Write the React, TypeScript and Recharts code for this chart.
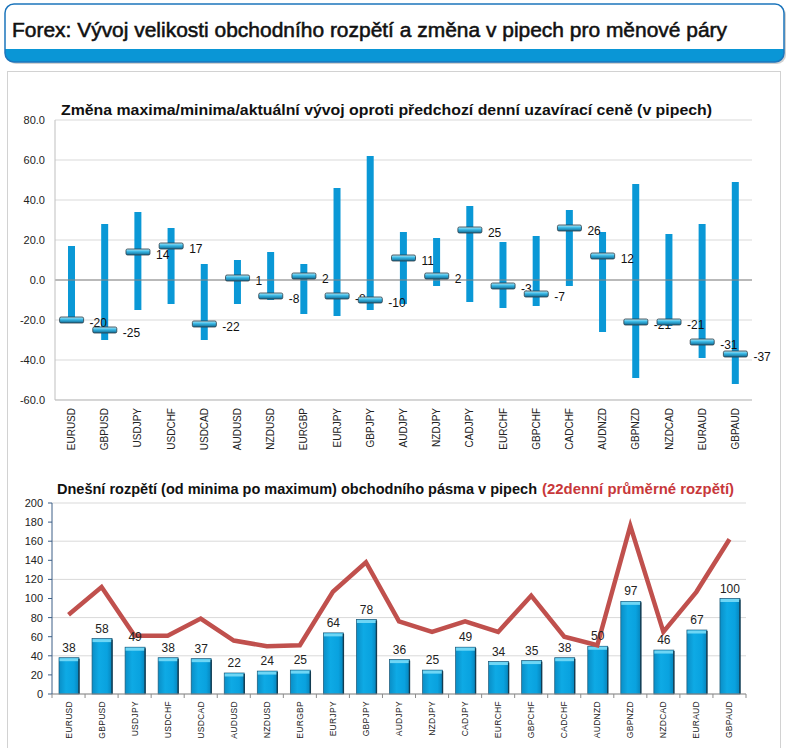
import React from 'react';
import { ComposedChart, Bar, Line, XAxis, YAxis, CartesianGrid, ReferenceLine, LabelList } from 'recharts';

const pairs = ['EURUSD', 'GBPUSD', 'USDJPY', 'USDCHF', 'USDCAD', 'AUDUSD', 'NZDUSD', 'EURGBP', 'EURJPY', 'GBPJPY', 'AUDJPY', 'NZDJPY', 'CADJPY', 'EURCHF', 'GBPCHF', 'CADCHF', 'AUDNZD', 'GBPNZD', 'NZDCAD', 'EURAUD', 'GBPAUD'];
const highs = [17, 28, 34, 26, 8, 10, 14, 8, 46, 62, 24, 21, 37, 19, 22, 35, 24, 48, 23, 28, 49];
const lows = [-20, -30, -15, -12, -30, -12, -10, -17, -18, -15, -12, -3, -11, -14, -13, -3, -26, -49, -23, -39, -52];
const current = [-20, -25, 14, 17, -22, 1, -8, 2, -8, -10, 11, 2, 25, -3, -7, 26, 12, -21, -21, -31, -37];
const todayRange = [38, 58, 49, 38, 37, 22, 24, 25, 64, 78, 36, 25, 49, 34, 35, 38, 50, 97, 46, 67, 100];
const avgRange = [83, 112, 61, 61, 79, 56, 50, 51, 107, 138, 76, 65, 76, 65, 103, 60, 51, 176, 65, 107, 162];
const topTicks = [-60, -40, -20, 0, 20, 40, 60, 80];
const botTicks = [0, 20, 40, 60, 80, 100, 120, 140, 160, 180, 200];

const topData = pairs.map((p, i) => ({ pair: p, range: [lows[i], highs[i]], current: current[i] }));
const botData = pairs.map((p, i) => ({ pair: p, today: todayRange[i], avg: avgRange[i] }));

const FONT = '"Liberation Sans", Arial, sans-serif';
const BOT_BAND = 694 / pairs.length;

const TopTick = (props: any) => {
  const { x, y, payload } = props;
  return (
    <text x={x} y={y} transform={`rotate(-90 ${x} ${y})`} textAnchor="end" dominantBaseline="central" fontSize={10} fill="#222" fontFamily={FONT}>
      {payload.value}
    </text>
  );
};

const BotTick = (props: any) => {
  const { x, y, payload, index } = props;
  const ay = y - 7;
  return (
    <g>
      <line x1={x - BOT_BAND / 2} x2={x - BOT_BAND / 2} y1={ay} y2={ay + 4} stroke="#8c8c8c" />
      {index === pairs.length - 1 && <line x1={x + BOT_BAND / 2} x2={x + BOT_BAND / 2} y1={ay} y2={ay + 4} stroke="#8c8c8c" />}
      <text x={x} y={y} transform={`rotate(-90 ${x} ${y})`} textAnchor="end" dominantBaseline="central" fontSize={8.5} fill="#222" fontFamily={FONT} letterSpacing={0.3}>
        {payload.value}
      </text>
    </g>
  );
};

const renderMarker = (p: any) => {
  const { cx, cy, index, value } = p;
  if (cx == null || cy == null) return <g key={`m${index}`} />;
  return (
    <g key={`m${index}`}>
      <rect x={cx - 12} y={cy - 3} width={24} height={6} rx={1.5} fill="url(#mkGrad)" stroke="#2b3a44" strokeWidth={0.8} />
      <text x={cx + 18} y={cy + 3} dominantBaseline="central" fontSize={12} fill="#111" fontFamily={FONT}>{value}</text>
    </g>
  );
};

const BarShape = (p: any) => {
  const { x, y, width, height } = p;
  if (!height || height <= 0) return null;
  return (
    <g>
      <rect x={x} y={y} width={width} height={height} fill="url(#barGrad)" stroke="#1d5877" strokeWidth={0.7} />
      <rect x={x + 0.5} y={y + 0.5} width={width - 1} height={3} fill="#6ed6f5" />
      <line x1={x + width} x2={x + width} y1={y + 1} y2={y + height} stroke="#123c52" strokeWidth={1.4} />
    </g>
  );
};

export default function App() {
  return (
    <div style={{ position: 'absolute', left: 0, top: 0, width: 792, height: 748, background: '#fff', overflow: 'hidden', fontFamily: FONT }}>
      <svg width={792} height={748} style={{ position: 'absolute', left: 0, top: 0 }}>
        <defs>
          <linearGradient id="mkGrad" x1="0" y1="0" x2="0" y2="1">
            <stop offset="0%" stopColor="#b5ecfa" />
            <stop offset="45%" stopColor="#36b6e4" />
            <stop offset="100%" stopColor="#13688f" />
          </linearGradient>
          <linearGradient id="barGrad" x1="0" y1="0" x2="1" y2="0">
            <stop offset="0%" stopColor="#0a8ec6" />
            <stop offset="35%" stopColor="#0eaae5" />
            <stop offset="75%" stopColor="#09a2df" />
            <stop offset="100%" stopColor="#0784bb" />
          </linearGradient>
          <clipPath id="hdrClip">
            <rect x={5} y={4} width={779} height={58} rx={9} />
          </clipPath>
        </defs>
        {/* content panel */}
        <rect x={7.5} y={71.5} width={773} height={700} fill="#fff" stroke="#d2d2d2" />
        {/* header */}
        <rect x={7} y={6} width={779} height={58} rx={9} fill="#9a9a9a" opacity={0.45} />
        <g clipPath="url(#hdrClip)">
          <rect x={5} y={4} width={779} height={58} fill="#fff" />
          <rect x={5} y={49} width={779} height={13} fill="#0a96d6" />
        </g>
        <rect x={5} y={4} width={779} height={58} rx={9} fill="none" stroke="#1c75bc" strokeWidth={1.5} />
        <text x={12} y={37} fontSize={21} fill="#111" stroke="#111" strokeWidth={0.55} fontFamily={FONT} textLength={715} lengthAdjust="spacingAndGlyphs">
          Forex: Vývoj velikosti obchodního rozpětí a změna v pipech pro měnové páry
        </text>
        {/* chart titles */}
        <text x={61} y={115} fontSize={15} fontWeight="bold" fill="#111" fontFamily={FONT} textLength={651} lengthAdjust="spacingAndGlyphs">
          Změna maxima/minima/aktuální vývoj oproti předchozí denní uzavírací ceně (v pipech)
        </text>
        <text x={57} y={494} fontSize={15} fontWeight="bold" fill="#111" fontFamily={FONT} textLength={480} lengthAdjust="spacingAndGlyphs">
          Dnešní rozpětí (od minima po maximum) obchodního pásma v pipech
        </text>
        <text x={542} y={494} fontSize={15} fontWeight="bold" fill="#c8383a" fontFamily={FONT} textLength={192} lengthAdjust="spacingAndGlyphs">
          (22denní průměrné rozpětí)
        </text>
      </svg>

      <div style={{ position: 'absolute', left: 0, top: 0 }}>
        <ComposedChart width={792} height={460} data={topData} margin={{ top: 120, right: 40, bottom: 10, left: 10 }}>
          <CartesianGrid vertical={false} stroke="#d9d9d9" />
          <XAxis dataKey="pair" interval={0} height={50} tickLine={false} tickSize={6} tickMargin={2} axisLine={{ stroke: '#bfbfbf' }} tick={<TopTick />} />
          <YAxis domain={[-60, 80]} ticks={topTicks} width={45} tickFormatter={(v: number) => v.toFixed(1)} axisLine={{ stroke: '#bfbfbf' }} tickLine={false} tickSize={6} tickMargin={4} tick={{ fontSize: 11, fill: '#222', fontFamily: FONT }} allowDataOverflow />
          <ReferenceLine y={0} stroke="#868686" />
          <Bar dataKey="range" barSize={7} fill="#0a98d6" isAnimationActive={false} />
          <Line dataKey="current" stroke="none" strokeWidth={0} dot={renderMarker} activeDot={false} isAnimationActive={false} />
        </ComposedChart>
      </div>

      <div style={{ position: 'absolute', left: 0, top: 470 }}>
        <ComposedChart width={792} height={278} data={botData} margin={{ top: 33, right: 46, bottom: 9, left: 12 }}>
          <CartesianGrid vertical={false} stroke="#d9d9d9" />
          <XAxis dataKey="pair" interval={0} height={45} tickLine={false} tickSize={4} tickMargin={3} axisLine={{ stroke: '#8c8c8c' }} tick={<BotTick />} />
          <YAxis domain={[0, 200]} ticks={botTicks} width={40} axisLine={{ stroke: '#3d5f86' }} tickLine={{ stroke: '#3d5f86' }} tickSize={4} tickMargin={5} tick={{ fontSize: 11, fill: '#222', fontFamily: FONT }} />
          <Bar dataKey="today" barSize={20} shape={<BarShape />} isAnimationActive={false}>
            <LabelList dataKey="today" position="top" offset={6} fontSize={12} fill="#222" fontFamily={FONT} />
          </Bar>
          <Line dataKey="avg" stroke="#c0504d" strokeWidth={4.5} dot={false} activeDot={false} isAnimationActive={false} />
        </ComposedChart>
      </div>
    </div>
  );
}
